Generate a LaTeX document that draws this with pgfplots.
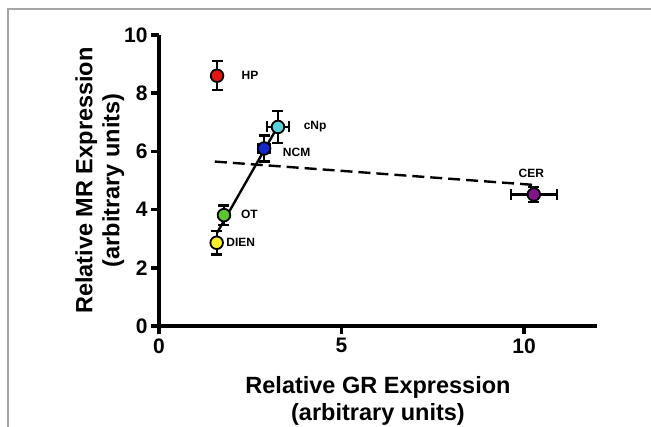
\documentclass[border=0pt]{standalone}
\usepackage{fontspec}
\setmainfont{Liberation Sans}
\usepackage{pgfplots}
\pgfplotsset{compat=1.18}

\definecolor{cHP}{RGB}{230,20,20}
\definecolor{cCNP}{RGB}{90,210,220}
\definecolor{cNCM}{RGB}{20,40,210}
\definecolor{cOT}{RGB}{90,200,40}
\definecolor{cDIEN}{RGB}{250,240,40}
\definecolor{cCER}{RGB}{130,20,140}

\pgfplotsset{
  pt/.style={only marks, mark=*, mark size=6.3pt,
    mark options={draw=black, line width=1.8pt, fill=#1},
    error bars/.cd, x dir=both, y dir=both, x explicit, y explicit,
    error bar style={black, line width=2.3pt},
    error mark options={black, line width=2.3pt, mark size=5.5pt, rotate=90}},
}

\begin{document}
\begin{tikzpicture}
\useasboundingbox (0pt,0pt) rectangle (651pt,427pt);
\draw[gray!70, line width=1.2pt] (8pt,0pt) -- (8pt,418pt) -- (651pt,418pt);
\begin{axis}[
  at={(159pt,101pt)}, anchor=origin,
  scale only axis, width=438pt, height=291pt,
  xmin=0, xmax=12, ymin=0, ymax=10,
  axis x line=bottom, axis y line=left,
  axis line style={-, line width=3.6pt},
  xtick={0,5,10}, ytick={0,2,4,6,8,10},
  tick style={black, line width=3.6pt},
  tick align=outside, major tick length=8pt,
  /pgf/number format/assume math mode=true,
  tick label style={font=\fontsize{21}{24}\selectfont\bfseries},
  xticklabel style={yshift=-1pt},
  xlabel={Relative GR Expression\\(arbitrary units)},
  ylabel={Relative MR Expression\\(arbitrary units)},
  label style={font=\fontsize{23.5}{27}\selectfont\bfseries, align=center},
  xlabel style={yshift=-16pt},
  ylabel style={yshift=-7pt},
  clip=false,
]
% regression lines
\addplot[black, line width=2.4pt, dash pattern=on 12pt off 6pt] coordinates {(1.53,5.65) (10.25,4.85)};
\addplot[black, line width=2.4pt] coordinates {(1.59,3.2) (3.26,6.87)};
% points
\addplot[pt=cHP] coordinates {(1.59,8.6) +- (0,0.5)};
\addplot[pt=cCNP] coordinates {(3.26,6.84) +- (0.3,0.55)};
\addplot[pt=cNCM] coordinates {(2.88,6.1) +- (0.15,0.45)};
\addplot[pt=cOT] coordinates {(1.78,3.81) +- (0,0.33)};
\addplot[pt=cDIEN] coordinates {(1.58,2.86) +- (0,0.4)};
\addplot[pt=cCER] coordinates {(10.27,4.52) +- (0.63,0.25)};
% labels
\begin{scope}[every node/.style={font=\fontsize{12}{14}\selectfont\bfseries}]
\node[anchor=west] at (axis cs:2.17,8.62) {HP};
\node[anchor=west] at (axis cs:3.87,6.86) {cNp};
\node[anchor=west] at (axis cs:3.30,5.95) {NCM};
\node[anchor=west] at (axis cs:2.15,3.82) {OT};
\node[anchor=west] at (axis cs:1.75,2.86) {DIEN};
\node at (axis cs:10.2,5.25) {CER};
\end{scope}
\end{axis}
\end{tikzpicture}
\end{document}
